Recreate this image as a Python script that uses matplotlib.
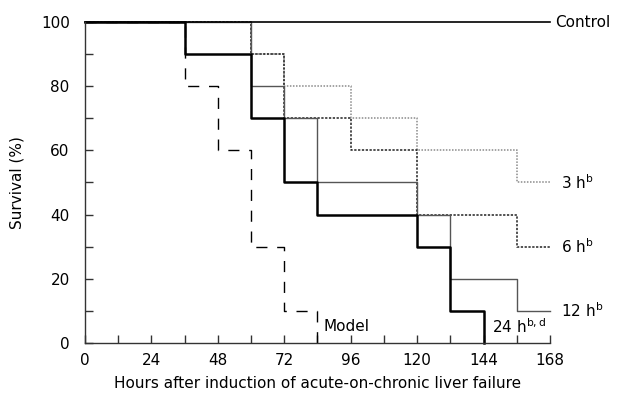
import matplotlib
matplotlib.use("Agg")
import matplotlib.pyplot as plt
from matplotlib.ticker import MultipleLocator, FuncFormatter

plt.rcParams["font.family"] = ["DejaVu Sans"]
plt.rcParams["mathtext.fontset"] = "dejavusans"

# ── Data (hours, survival %) ──
control_t = [0, 168]
control_s = [100, 100]
h3_t = [0, 60, 72, 96, 120, 156, 168]
h3_s = [100, 90, 80, 70, 60, 50, 50]
h6_t = [0, 60, 72, 96, 120, 156, 168]
h6_s = [100, 90, 70, 60, 40, 30, 30]
h12_t = [0, 60, 72, 84, 120, 132, 156, 168]
h12_s = [100, 80, 70, 50, 40, 20, 10, 10]
h24_t = [0, 36, 60, 72, 84, 120, 132, 144]
h24_s = [100, 90, 70, 50, 40, 30, 10, 0]
model_t = [0, 36, 48, 60, 72, 84]
model_s = [100, 80, 60, 30, 10, 0]

fig = plt.figure(figsize=(6.18, 4.01), dpi=100)
ax = fig.add_axes([0.1375, 0.145, 0.7525, 0.80])

ax.step(h3_t, h3_s, where="post", color="#8a8a8a", lw=1.1, ls=(0, (1, 1)), clip_on=False)
ax.step(h6_t, h6_s, where="post", color="#222222", lw=1.1, ls=(0, (1.5, 1)), clip_on=False)
ax.step(h12_t, h12_s, where="post", color="#555555", lw=1.0, clip_on=False)
ax.step(h24_t, h24_s, where="post", color="black", lw=1.8, clip_on=False)
ax.step(model_t, model_s, where="post", color="black", lw=1.0, ls=(0, (8, 7)), clip_on=False)
ax.plot(control_t, control_s, color="black", lw=1.2, clip_on=False)

# ── Curve labels ──
fs = 11
ax.text(170, 100, "Control", fontsize=fs, va="center", ha="left")
ax.text(172, 50, r"3 h$^{\mathrm{b}}$", fontsize=fs, va="center", ha="left")
ax.text(172, 30, r"6 h$^{\mathrm{b}}$", fontsize=fs, va="center", ha="left")
ax.text(172, 10, r"12 h$^{\mathrm{b}}$", fontsize=fs, va="center", ha="left")
ax.text(147, 5, r"24 h$^{\mathrm{b,d}}$", fontsize=fs, va="center", ha="left")
ax.text(86, 5, "Model", fontsize=fs, va="center", ha="left")

# ── Axes ──
ax.set_xlim(0, 168)
ax.set_ylim(0, 100)
ax.xaxis.set_major_locator(MultipleLocator(12))
ax.xaxis.set_major_formatter(FuncFormatter(lambda v, p: f"{int(v)}" if int(v) % 24 == 0 else ""))
ax.yaxis.set_major_locator(MultipleLocator(20))
ax.yaxis.set_minor_locator(MultipleLocator(10))
ax.tick_params(axis="both", which="both", direction="in", length=6, width=1,
               color="#333333", labelsize=fs)
ax.tick_params(axis="y", pad=11)
ax.tick_params(axis="x", pad=7)
for side in ["top", "right"]:
    ax.spines[side].set_visible(False)
for side in ["left", "bottom"]:
    ax.spines[side].set_color("#333333")
    ax.spines[side].set_linewidth(1.0)

ax.set_xlabel("Hours after induction of acute-on-chronic liver failure", fontsize=fs, labelpad=6)
ax.set_ylabel("Survival (%)", fontsize=fs, labelpad=12)

fig.savefig("out.png", dpi=100)
